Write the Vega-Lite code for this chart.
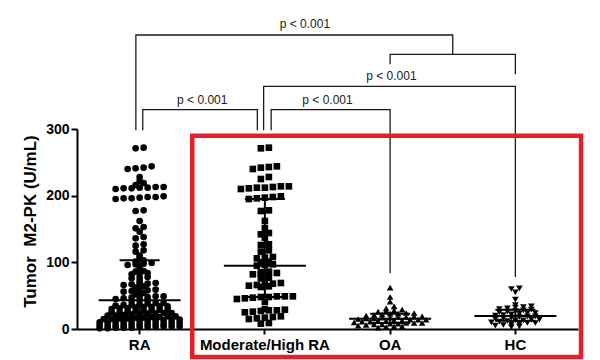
{
  "$schema": "https://vega.github.io/schema/vega-lite/v6.json",
  "width": 501,
  "height": 200,
  "autosize": "none",
  "padding": {"left": 77, "top": 129, "right": 22, "bottom": 31},
  "background": "white",
  "config": {"view": {"stroke": null}, "font": "Liberation Sans"},
  "datasets": {
    "pts": [
      {"g":"RA","v":271},{"g":"RA","v":272},{"g":"RA","v":240},{"g":"RA","v":241},{"g":"RA","v":242},{"g":"RA","v":244},
      {"g":"RA","v":222},{"g":"RA","v":228},{"g":"RA","v":210},{"g":"RA","v":211},{"g":"RA","v":211},{"g":"RA","v":212},
      {"g":"RA","v":212},{"g":"RA","v":213},{"g":"RA","v":213},{"g":"RA","v":216},{"g":"RA","v":219},{"g":"RA","v":195},
      {"g":"RA","v":196},{"g":"RA","v":196},{"g":"RA","v":197},{"g":"RA","v":198},{"g":"RA","v":198},{"g":"RA","v":199},
      {"g":"RA","v":177},{"g":"RA","v":178},{"g":"RA","v":162},{"g":"RA","v":151},{"g":"RA","v":153},{"g":"RA","v":146},
      {"g":"RA","v":136},{"g":"RA","v":138},{"g":"RA","v":125},{"g":"RA","v":127},{"g":"RA","v":110},{"g":"RA","v":116},
      {"g":"RA","v":118},{"g":"RA","v":107},
      {"g":"RA","v":42},{"g":"RA","v":43},{"g":"RA","v":44},{"g":"RA","v":45},{"g":"RA","v":46},{"g":"RA","v":47},
      {"g":"RA","v":48},{"g":"RA","v":48},{"g":"RA","v":49},{"g":"RA","v":49},{"g":"RA","v":52},{"g":"RA","v":54},
      {"g":"RA","v":56},{"g":"RA","v":57},{"g":"RA","v":58},{"g":"RA","v":58},{"g":"RA","v":59},{"g":"RA","v":62},
      {"g":"RA","v":64},{"g":"RA","v":66},{"g":"RA","v":67},{"g":"RA","v":68},{"g":"RA","v":68},{"g":"RA","v":69},
      {"g":"RA","v":72},{"g":"RA","v":76},{"g":"RA","v":77},{"g":"RA","v":78},{"g":"RA","v":82},{"g":"RA","v":83},
      {"g":"RA","v":84},{"g":"RA","v":86},{"g":"RA","v":87},{"g":"RA","v":93},{"g":"RA","v":96},{"g":"RA","v":97},
      {"g":"RA","v":98},{"g":"RA","v":99},{"g":"RA","v":101},{"g":"RA","v":103},
      {"g":"RA","v":1},{"g":"RA","v":1},{"g":"RA","v":2},{"g":"RA","v":2},{"g":"RA","v":2},{"g":"RA","v":3},
      {"g":"RA","v":3},{"g":"RA","v":3},{"g":"RA","v":4},{"g":"RA","v":4},{"g":"RA","v":4},
      {"g":"RA","v":5},{"g":"RA","v":5},{"g":"RA","v":6},{"g":"RA","v":6},{"g":"RA","v":7},{"g":"RA","v":7},
      {"g":"RA","v":7},{"g":"RA","v":8},{"g":"RA","v":8},{"g":"RA","v":9},{"g":"RA","v":9},
      {"g":"RA","v":10},{"g":"RA","v":10},{"g":"RA","v":11},{"g":"RA","v":11},{"g":"RA","v":12},{"g":"RA","v":12},
      {"g":"RA","v":12},{"g":"RA","v":13},{"g":"RA","v":13},{"g":"RA","v":14},{"g":"RA","v":14},
      {"g":"RA","v":15},{"g":"RA","v":15},{"g":"RA","v":16},{"g":"RA","v":16},{"g":"RA","v":17},{"g":"RA","v":17},
      {"g":"RA","v":18},{"g":"RA","v":18},{"g":"RA","v":19},{"g":"RA","v":19},
      {"g":"RA","v":20},{"g":"RA","v":20},{"g":"RA","v":21},{"g":"RA","v":22},{"g":"RA","v":22},{"g":"RA","v":23},
      {"g":"RA","v":23},{"g":"RA","v":24},{"g":"RA","v":24},
      {"g":"RA","v":25},{"g":"RA","v":25},{"g":"RA","v":26},{"g":"RA","v":27},{"g":"RA","v":27},{"g":"RA","v":28},
      {"g":"RA","v":29},{"g":"RA","v":29},
      {"g":"RA","v":30},{"g":"RA","v":31},{"g":"RA","v":31},{"g":"RA","v":32},{"g":"RA","v":33},{"g":"RA","v":33},
      {"g":"RA","v":34},{"g":"RA","v":34},
      {"g":"RA","v":35},{"g":"RA","v":36},{"g":"RA","v":36},{"g":"RA","v":37},{"g":"RA","v":38},{"g":"RA","v":39},
      {"g":"RA","v":39},
      {"g":"Moderate/High RA","v":271},{"g":"Moderate/High RA","v":272},{"g":"Moderate/High RA","v":240},
      {"g":"Moderate/High RA","v":242},{"g":"Moderate/High RA","v":243},{"g":"Moderate/High RA","v":244},
      {"g":"Moderate/High RA","v":225},{"g":"Moderate/High RA","v":228},{"g":"Moderate/High RA","v":210},
      {"g":"Moderate/High RA","v":211},{"g":"Moderate/High RA","v":212},{"g":"Moderate/High RA","v":212},
      {"g":"Moderate/High RA","v":213},{"g":"Moderate/High RA","v":214},{"g":"Moderate/High RA","v":214},
      {"g":"Moderate/High RA","v":195},{"g":"Moderate/High RA","v":196},{"g":"Moderate/High RA","v":197},
      {"g":"Moderate/High RA","v":198},{"g":"Moderate/High RA","v":199},{"g":"Moderate/High RA","v":177},
      {"g":"Moderate/High RA","v":178},{"g":"Moderate/High RA","v":162},{"g":"Moderate/High RA","v":151},
      {"g":"Moderate/High RA","v":142},{"g":"Moderate/High RA","v":144},{"g":"Moderate/High RA","v":137},
      {"g":"Moderate/High RA","v":126},{"g":"Moderate/High RA","v":127},{"g":"Moderate/High RA","v":116},
      {"g":"Moderate/High RA","v":118},{"g":"Moderate/High RA","v":106},{"g":"Moderate/High RA","v":107},
      {"g":"Moderate/High RA","v":108},{"g":"Moderate/High RA","v":100},{"g":"Moderate/High RA","v":101},
      {"g":"Moderate/High RA","v":95},{"g":"Moderate/High RA","v":96},{"g":"Moderate/High RA","v":97},
      {"g":"Moderate/High RA","v":85},{"g":"Moderate/High RA","v":86},{"g":"Moderate/High RA","v":82},
      {"g":"Moderate/High RA","v":83},{"g":"Moderate/High RA","v":84},{"g":"Moderate/High RA","v":84},
      {"g":"Moderate/High RA","v":76},{"g":"Moderate/High RA","v":77},{"g":"Moderate/High RA","v":63},
      {"g":"Moderate/High RA","v":64},{"g":"Moderate/High RA","v":65},{"g":"Moderate/High RA","v":66},
      {"g":"Moderate/High RA","v":67},{"g":"Moderate/High RA","v":68},{"g":"Moderate/High RA","v":69},
      {"g":"Moderate/High RA","v":45},{"g":"Moderate/High RA","v":46},{"g":"Moderate/High RA","v":47},
      {"g":"Moderate/High RA","v":48},{"g":"Moderate/High RA","v":48},{"g":"Moderate/High RA","v":49},
      {"g":"Moderate/High RA","v":49},{"g":"Moderate/High RA","v":49},{"g":"Moderate/High RA","v":41},
      {"g":"Moderate/High RA","v":25},{"g":"Moderate/High RA","v":26},{"g":"Moderate/High RA","v":27},
      {"g":"Moderate/High RA","v":28},{"g":"Moderate/High RA","v":28},{"g":"Moderate/High RA","v":29},
      {"g":"Moderate/High RA","v":30},{"g":"Moderate/High RA","v":15},{"g":"Moderate/High RA","v":16},
      {"g":"Moderate/High RA","v":17},{"g":"Moderate/High RA","v":18},{"g":"Moderate/High RA","v":19},
      {"g":"Moderate/High RA","v":8},{"g":"Moderate/High RA","v":9},
      {"g":"OA","v":62},{"g":"OA","v":48},{"g":"OA","v":41},{"g":"OA","v":31},{"g":"OA","v":34},{"g":"OA","v":26},
      {"g":"OA","v":27},{"g":"OA","v":28},{"g":"OA","v":29},{"g":"OA","v":20},{"g":"OA","v":21},{"g":"OA","v":22},
      {"g":"OA","v":23},{"g":"OA","v":23},{"g":"OA","v":24},{"g":"OA","v":24},{"g":"OA","v":15},{"g":"OA","v":16},
      {"g":"OA","v":16},{"g":"OA","v":17},{"g":"OA","v":17},{"g":"OA","v":18},{"g":"OA","v":18},{"g":"OA","v":19},
      {"g":"OA","v":19},{"g":"OA","v":10},{"g":"OA","v":11},{"g":"OA","v":11},{"g":"OA","v":12},{"g":"OA","v":12},
      {"g":"OA","v":13},{"g":"OA","v":13},{"g":"OA","v":14},{"g":"OA","v":14},{"g":"OA","v":14},{"g":"OA","v":5},
      {"g":"OA","v":6},{"g":"OA","v":7},{"g":"OA","v":7},{"g":"OA","v":8},{"g":"OA","v":8},{"g":"OA","v":9},
      {"g":"OA","v":9},{"g":"OA","v":9},{"g":"OA","v":2},{"g":"OA","v":3},{"g":"OA","v":4},{"g":"OA","v":4},
      {"g":"HC","v":60},{"g":"HC","v":61},{"g":"HC","v":55},{"g":"HC","v":44},{"g":"HC","v":36},{"g":"HC","v":30},
      {"g":"HC","v":31},{"g":"HC","v":32},{"g":"HC","v":33},{"g":"HC","v":34},{"g":"HC","v":25},{"g":"HC","v":26},
      {"g":"HC","v":27},{"g":"HC","v":28},{"g":"HC","v":29},{"g":"HC","v":20},{"g":"HC","v":21},{"g":"HC","v":22},
      {"g":"HC","v":23},{"g":"HC","v":24},{"g":"HC","v":24},{"g":"HC","v":15},{"g":"HC","v":16},{"g":"HC","v":17},
      {"g":"HC","v":18},{"g":"HC","v":19},{"g":"HC","v":19},{"g":"HC","v":10},{"g":"HC","v":11},{"g":"HC","v":12},
      {"g":"HC","v":13},{"g":"HC","v":13},{"g":"HC","v":14},{"g":"HC","v":14},{"g":"HC","v":5},{"g":"HC","v":6},
      {"g":"HC","v":7},{"g":"HC","v":8},{"g":"HC","v":9},{"g":"HC","v":9},{"g":"HC","v":3},{"g":"HC","v":4}
    ],
    "brk": [
      {"b":1,"k":1,"g":"RA","dx":-0.03,"y":298},
      {"b":1,"k":2,"g":"RA","dx":-0.03,"y":441},
      {"b":1,"k":3,"g":"OA","dx":0.5,"y":441},
      {"b":1,"k":4,"g":"OA","dx":0.5,"y":412},
      {"b":2,"k":1,"g":"OA","dx":0,"y":397},
      {"b":2,"k":2,"g":"OA","dx":0,"y":412},
      {"b":2,"k":3,"g":"HC","dx":0,"y":412},
      {"b":2,"k":4,"g":"HC","dx":0,"y":382},
      {"b":3,"k":1,"g":"Moderate/High RA","dx":-0.01,"y":298},
      {"b":3,"k":2,"g":"Moderate/High RA","dx":-0.01,"y":364},
      {"b":3,"k":3,"g":"HC","dx":0,"y":364},
      {"b":3,"k":4,"g":"HC","dx":0,"y":78},
      {"b":4,"k":1,"g":"RA","dx":0.025,"y":298},
      {"b":4,"k":2,"g":"RA","dx":0.025,"y":329},
      {"b":4,"k":3,"g":"Moderate/High RA","dx":-0.06,"y":329},
      {"b":4,"k":4,"g":"Moderate/High RA","dx":-0.06,"y":298},
      {"b":5,"k":1,"g":"Moderate/High RA","dx":0.05,"y":298},
      {"b":5,"k":2,"g":"Moderate/High RA","dx":0.05,"y":329},
      {"b":5,"k":3,"g":"OA","dx":0,"y":329},
      {"b":5,"k":4,"g":"OA","dx":0,"y":84}
    ],
    "lbl": [
      {"g":"Moderate/High RA","dx":0.32,"y":457,"t":"p < 0.001"},
      {"g":"RA","dx":0.5,"y":344,"t":"p < 0.001"},
      {"g":"OA","dx":0.01,"y":379,"t":"p < 0.001"},
      {"g":"Moderate/High RA","dx":0.5,"y":344,"t":"p < 0.001"}
    ],
    "box": [
      {"from":"Moderate/High RA","to":"HC","top":290,"bottom":-42}
    ]
  },
  "layer": [
    {
      "data": {"name": "pts"},
      "transform": [
        {"bin": {"step": 5, "extent": [0, 300]}, "field": "v", "as": "vb"},
        {"window": [{"op": "row_number", "as": "r"}, {"op": "count", "as": "n"}], "groupby": ["g", "vb"], "sort": [{"field": "v", "order": "ascending"}], "frame": [null, null]},
        {"calculate": "datum.r - (datum.n + 1) / 2", "as": "dx"}
      ],
      "mark": {"type": "point", "filled": true, "opacity": 1, "color": "black"},
      "encoding": {
        "x": {"field": "g", "type": "nominal",
          "scale": {"domain": ["RA", "Moderate/High RA", "OA", "HC"], "paddingInner": 0, "paddingOuter": 0},
          "axis": {"title": null, "labelAngle": 0, "grid": false, "domainColor": "black", "domainWidth": 2, "tickColor": "black", "tickWidth": 2, "tickSize": 5, "labelFont": "Liberation Sans", "labelFontWeight": "bold", "labelFontSize": 15, "labelColor": "black", "labelPadding": 3}},
        "xOffset": {"field": "dx", "type": "quantitative", "scale": {"domain": [-10, 10], "range": [-17.375, 142.625]}},
        "y": {"field": "v", "type": "quantitative", "scale": {"domain": [0, 300], "nice": false},
          "axis": {"title": "Tumor\u00a0 M2-PK (U/mL)", "values": [0, 100, 200, 300], "grid": false, "domainColor": "black", "domainWidth": 2, "tickColor": "black", "tickWidth": 2, "tickSize": 6, "labelFont": "Liberation Sans", "labelFontWeight": "bold", "labelFontSize": 14, "labelColor": "black", "labelPadding": 2, "titleFont": "Liberation Sans", "titleFontWeight": "bold", "titleFontSize": 17, "titleColor": "black", "titlePadding": 6, "titleY": 92}},
        "shape": {"field": "g", "type": "nominal", "scale": {"domain": ["RA", "Moderate/High RA", "OA", "HC"], "range": ["circle", "square", "triangle-up", "triangle-down"]}, "legend": null},
        "size": {"field": "g", "type": "nominal", "scale": {"domain": ["RA", "Moderate/High RA", "OA", "HC"], "range": [44, 44, 50, 50]}, "legend": null}
      }
    },
    {
      "data": {"name": "pts"},
      "transform": [
        {"aggregate": [{"op": "median", "field": "v", "as": "med"}, {"op": "q1", "field": "v", "as": "lo"}, {"op": "q3", "field": "v", "as": "hi"}], "groupby": ["g"]}
      ],
      "encoding": {
        "x": {"field": "g", "type": "nominal", "scale": {"domain": ["RA", "Moderate/High RA", "OA", "HC"], "paddingInner": 0, "paddingOuter": 0}}
      },
      "layer": [
        {"mark": {"type": "rule", "color": "black", "strokeWidth": 2},
         "encoding": {"y": {"field": "lo", "type": "quantitative", "scale": {"domain": [0, 300], "nice": false}}, "y2": {"field": "hi"}}},
        {"mark": {"type": "tick", "orient": "horizontal", "color": "black", "size": 82, "thickness": 2, "opacity": 1},
         "encoding": {"y": {"field": "med", "type": "quantitative", "scale": {"domain": [0, 300], "nice": false}}}},
        {"mark": {"type": "tick", "orient": "horizontal", "color": "black", "size": 40, "thickness": 2, "opacity": 1},
         "encoding": {"y": {"field": "lo", "type": "quantitative", "scale": {"domain": [0, 300], "nice": false}}}},
        {"mark": {"type": "tick", "orient": "horizontal", "color": "black", "size": 40, "thickness": 2, "opacity": 1},
         "encoding": {"y": {"field": "hi", "type": "quantitative", "scale": {"domain": [0, 300], "nice": false}}}}
      ]
    },
    {
      "data": {"name": "brk"},
      "mark": {"type": "line", "color": "#1a1a1a", "strokeWidth": 1.3, "clip": false},
      "encoding": {
        "x": {"field": "g", "type": "nominal", "scale": {"domain": ["RA", "Moderate/High RA", "OA", "HC"], "paddingInner": 0, "paddingOuter": 0}},
        "xOffset": {"field": "dx", "type": "quantitative", "scale": {"domain": [-1, 1], "range": [-62.625, 187.875]}},
        "y": {"field": "y", "type": "quantitative", "scale": {"domain": [0, 300], "nice": false}},
        "detail": {"field": "b"},
        "order": {"field": "k", "type": "quantitative"}
      }
    },
    {
      "data": {"name": "lbl"},
      "mark": {"type": "text", "font": "Liberation Sans", "fontSize": 12, "color": "#1a1a1a", "baseline": "middle", "align": "center", "clip": false},
      "encoding": {
        "x": {"field": "g", "type": "nominal", "scale": {"domain": ["RA", "Moderate/High RA", "OA", "HC"], "paddingInner": 0, "paddingOuter": 0}},
        "xOffset": {"field": "dx", "type": "quantitative", "scale": {"domain": [-1, 1], "range": [-62.625, 187.875]}},
        "y": {"field": "y", "type": "quantitative", "scale": {"domain": [0, 300], "nice": false}},
        "text": {"field": "t"}
      }
    },
    {
      "data": {"name": "box"},
      "mark": {"type": "rect", "fill": null, "fillOpacity": 0, "stroke": "#e3202a", "strokeWidth": 4.5, "clip": false, "xOffset": -10, "x2Offset": 3},
      "encoding": {
        "x": {"field": "from", "type": "nominal", "bandPosition": 0, "scale": {"domain": ["RA", "Moderate/High RA", "OA", "HC"], "paddingInner": 0, "paddingOuter": 0}},
        "x2": {"field": "to", "bandPosition": 1},
        "y": {"field": "top", "type": "quantitative", "scale": {"domain": [0, 300], "nice": false}},
        "y2": {"field": "bottom"}
      }
    }
  ],
  "resolve": {"scale": {"xOffset": "independent"}}
}
